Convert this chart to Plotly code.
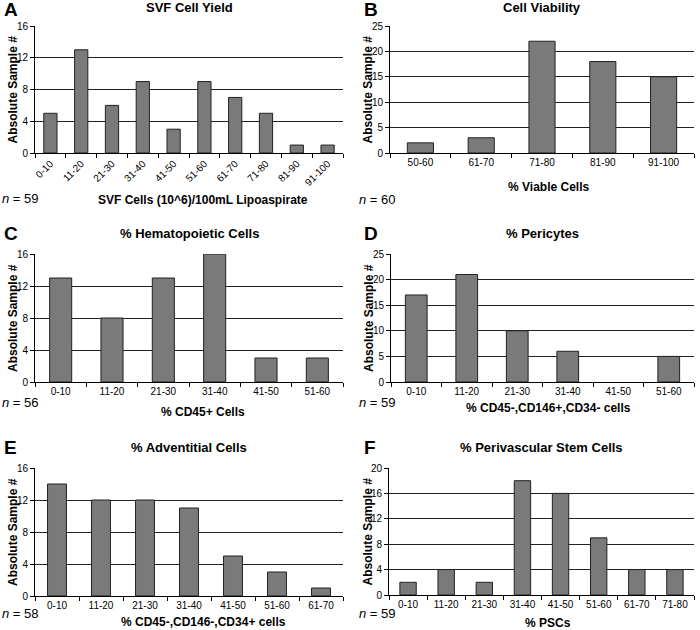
import plotly.graph_objects as go

W, H = 700, 630

# data
cats_a = ["0-10", "11-20", "21-30", "31-40", "41-50", "51-60", "61-70", "71-80", "81-90", "91-100"]
vals_a = [5, 13, 6, 9, 3, 9, 7, 5, 1, 1]
cats_b = ["50-60", "61-70", "71-80", "81-90", "91-100"]
vals_b = [2, 3, 22, 18, 15]
cats_c = ["0-10", "11-20", "21-30", "31-40", "41-50", "51-60"]
vals_c = [13, 8, 13, 16, 3, 3]
cats_d = ["0-10", "11-20", "21-30", "31-40", "41-50", "51-60"]
vals_d = [17, 21, 10, 6, 0, 5]
cats_e = ["0-10", "11-20", "21-30", "31-40", "41-50", "51-60", "61-70"]
vals_e = [14, 12, 12, 11, 5, 3, 1]
cats_f = ["0-10", "11-20", "21-30", "31-40", "41-50", "51-60", "61-70", "71-80"]
vals_f = [2, 4, 2, 18, 16, 9, 4, 4]

FONT = "Liberation Sans, Arial, sans-serif"


def px(x):
    return x / W


def py(y):
    return 1 - y / H


# letter, title, x title, n, cats, vals, ymax, dtick,
# plot box (left, right, top, bottom) in pixels, x-title y, n y, rotated ticks
panels = [
    ("A", "SVF Cell Yield", "SVF Cells (10^6)/100mL Lipoaspirate", 59, cats_a, vals_a, 16, 4,
     35, 343, 26, 153, 200, 198, True),
    ("B", "Cell Viability", "% Viable Cells", 60, cats_b, vals_b, 25, 5,
     390, 694, 26, 153, 187, 199, False),
    ("C", "% Hematopoietic Cells", "% CD45+ Cells", 56, cats_c, vals_c, 16, 4,
     35, 343, 254, 382, 412, 403, False),
    ("D", "% Pericytes", "% CD45-,CD146+,CD34- cells", 59, cats_d, vals_d, 25, 5,
     391, 694, 254, 382, 408, 403, False),
    ("E", "% Adventitial Cells", "% CD45-,CD146-,CD34+ cells", 58, cats_e, vals_e, 16, 4,
     35, 343, 468, 596, 622, 613, False),
    ("F", "% Perivascular Stem Cells", "% PSCs", 59, cats_f, vals_f, 20, 4,
     389, 694, 468, 595, 623, 613, False),
]

fig = go.Figure()
annotations = []

for i, (letter, title, xtitle, n, cats, vals, ymax, dtick, x0, x1, yt, yb, xty, ny, rot) in enumerate(panels):
    k = "" if i == 0 else str(i + 1)
    fig.add_trace(go.Bar(
        x=cats, y=vals,
        xaxis="x" + k, yaxis="y" + k,
        marker=dict(color="#7a7a7a",
                    line=dict(color="#222222", width=[1 if v else 0 for v in vals])),
        showlegend=False,
    ))
    fig.update_layout(**{
        "xaxis" + k: dict(
            domain=[px(x0), px(x1)], anchor="y" + k, automargin=False,
            showline=True, linecolor="black", linewidth=1,
            ticks="outside", tickson="boundaries", ticklen=4, tickcolor="black",
            tickangle=-45 if rot else 0,
            tickfont=dict(size=10, color="black", family=FONT),
            showgrid=False, fixedrange=True,
        ),
        "yaxis" + k: dict(
            domain=[py(yb), py(yt)], anchor="x" + k, automargin=False,
            range=[0, ymax], dtick=dtick,
            showline=True, linecolor="black", linewidth=1,
            ticks="outside", ticklen=4, tickcolor="black",
            tickfont=dict(size=10, color="black", family=FONT),
            showgrid=True, gridcolor="#222222", gridwidth=1,
            zeroline=False,
        ),
    })
    xc = (x0 + x1) / 2
    left = x0 < 350
    lx = 2 if left else 362
    nx = 0 if left else 357
    ty = 8 if yt < 100 else yt - 21
    annotations += [
        dict(text="<b>" + letter + "</b>", x=px(lx), y=py(ty + 2 if yt < 100 else ty),
             xanchor="left", yanchor="middle",
             font=dict(size=19, family=FONT, color="black")),
        dict(text="<b>" + title + "</b>", x=px(xc), y=py(ty), xanchor="center", yanchor="middle",
             font=dict(size=13, family=FONT, color="black")),
        dict(text="<b>" + xtitle + "</b>", x=px(xc + 14 if left else xc + 6), y=py(xty),
             xanchor="center", yanchor="middle",
             font=dict(size=12, family=FONT, color="black")),
        dict(text="<i>n</i> = %d" % n, x=px(nx), y=py(ny), xanchor="left",
             yanchor="middle", font=dict(size=13, family=FONT, color="black")),
        dict(text="<b>Absolute Sample #</b>", x=px(x0 - 22), y=py((yt + yb) / 2), textangle=-90,
             xanchor="center", yanchor="middle",
             font=dict(size=12, family=FONT, color="black")),
    ]

for a in annotations:
    a.update(xref="paper", yref="paper", showarrow=False)

fig.update_layout(
    width=W, height=H,
    margin=dict(l=0, r=0, t=0, b=0),
    bargap=0.57,
    plot_bgcolor="white", paper_bgcolor="white",
    annotations=annotations,
    font=dict(family=FONT, color="black"),
)

# drop the page's default body margin so the figure sits at the window corner
fig.write_html("out.html", config={"displayModeBar": False},
               post_script="document.body.style.margin='0';")
